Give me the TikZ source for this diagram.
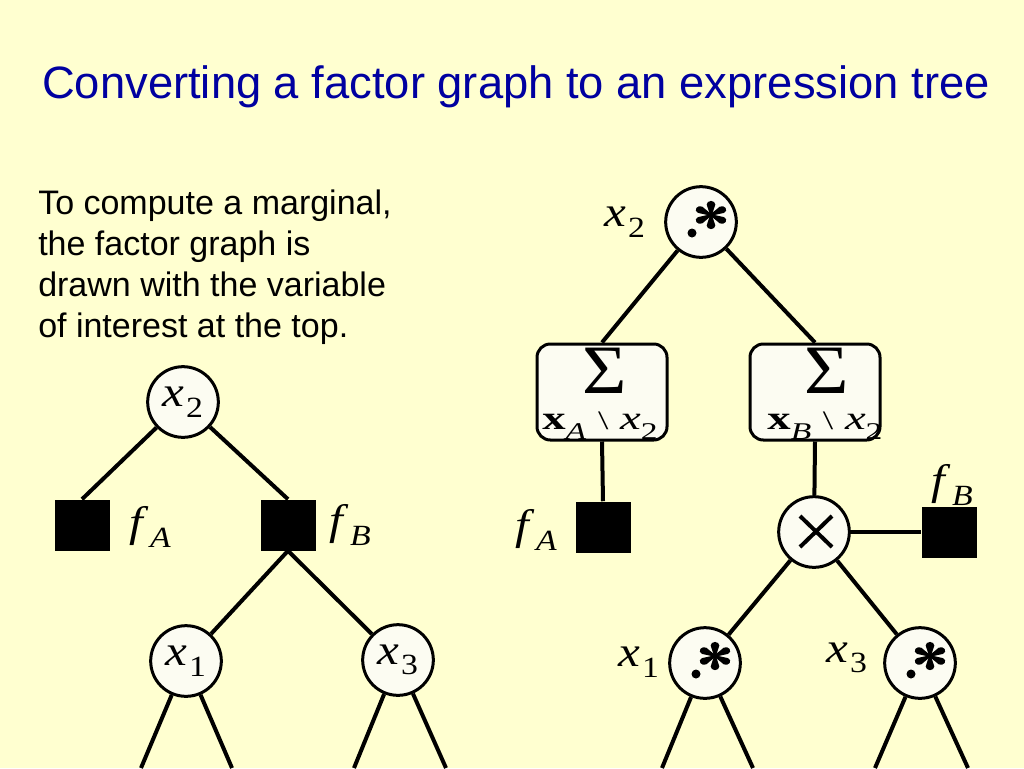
\documentclass[tikz,border=0pt]{standalone}
\usepackage{fontspec}
\setmainfont{Liberation Serif}
\newfontfamily\arialfont{Liberation Sans}
\usetikzlibrary{calc}
\definecolor{bgyellow}{RGB}{255,255,208}
\definecolor{titleblue}{RGB}{0,0,160}
\definecolor{nodefill}{RGB}{252,252,242}
\newcommand\mlab[2]{\scalebox{1.15}[1]{\fontsize{32pt}{32pt}\selectfont\textit{#1}\kern0.03em\raisebox{-0.25em}{\fontsize{22pt}{22pt}\selectfont #2}}}
\newcommand\sumsub[1]{\scalebox{1.4}[1]{\fontsize{25pt}{25pt}\selectfont\textbf{x}\raisebox{-0.3em}{\fontsize{18pt}{18pt}\selectfont\textit{#1}}\ {\fontsize{20pt}{20pt}\selectfont\textbackslash}\ \textit{x}\raisebox{-0.3em}{\fontsize{18pt}{18pt}\selectfont 2}}}
\newcommand\bigsig{\scalebox{1.1}[1]{\fontsize{52pt}{52pt}\selectfont Σ}}
\tikzset{
  conn/.style={line width=3pt},
  varnode/.style={circle, draw, line width=2.25pt, fill=nodefill, minimum size=53pt, inner sep=0pt},
  facnode/.style={rectangle, fill=black, minimum width=41.25pt, minimum height=38.25pt, inner sep=0pt},
  sumbox/.style={rectangle, rounded corners=10pt, draw, line width=2.25pt, fill=nodefill, minimum width=97.5pt, minimum height=72pt, inner sep=0pt},
  lbl/.style={inner sep=0pt},
  starsym/.pic={
    \fill (-9,11) circle[radius=4.5];
    \begin{scope}[shift={(10,-7)}, xscale=1.2]
      \foreach \a in {90,30,-30,-90,150,210}
        \fill[rotate=\a] (0,-0.8) -- (10.5,-3.6) arc[start angle=-90, end angle=90, radius=3.6] -- (0,0.8) -- cycle;
    \end{scope}
  }
}
\begin{document}
\begin{tikzpicture}[x=0.75pt,y=-0.75pt]
\useasboundingbox (0,0) rectangle (1024,768);
\fill[bgyellow] (0,0) rectangle (1024,768);

% title and text
\node[anchor=base, inner sep=0pt, text=titleblue, font=\arialfont\fontsize{34pt}{34pt}\selectfont] (title) at (516,98) {Converting a factor graph to an expression tree};
\node[anchor=north west, align=left, inner sep=0pt, font=\arialfont\fontsize{25.5pt}{30.75pt}\selectfont] (body) at (38,190) {To compute a marginal,\\the factor graph is\\drawn with the variable\\of interest at the top.};

% left factor graph
\node[varnode] (lx2) at (183,402) {\mlab{x}{2}};
\node[facnode] (lfA) at (82,525) {};
\node[facnode] (lfB) at (288,525) {};
\node[varnode] (lx1) at (186,661) {\mlab{x}{1}};
\node[varnode] (lx3) at (398,660) {\mlab{x}{3}};
\node[lbl] (lfAl) at (150,527) {\mlab{f}{\textit{A}}};
\node[lbl] (lfBl) at (350,525) {\mlab{f}{\textit{B}}};
\coordinate (b1) at (141,768);
\coordinate (b2) at (232,768);
\coordinate (b3) at (354,768);
\coordinate (b4) at (446,768);
\draw[conn] (lx2) -- (lfA.north);
\draw[conn] (lx2) -- (lfB.north);
\draw[conn] (lfB.south) -- (lx1);
\draw[conn] (lfB.south) -- (lx3);
\draw[conn] (lx1) -- (b1);
\draw[conn] (lx1) -- (b2);
\draw[conn] (lx3) -- (b3);
\draw[conn] (lx3) -- (b4);

% right expression tree
\node[varnode] (rx2) at (701,222) {};
\pic at (rx2) {starsym};
\node[lbl] (rx2l) at (625,222) {\mlab{x}{2}};
\node[sumbox] (sA) at (602,392) {};
\node[sumbox] (sB) at (815,392) {};
\node[lbl] (sAs) at (605,371) {\bigsig};
\node[lbl] (sBs) at (827,371) {\bigsig};
\node[lbl, anchor=base] (sAt) at (600,429) {\sumsub{A}};
\node[lbl, anchor=base] (sBt) at (825,429) {\sumsub{B}};
\node[facnode] (rfA) at (603,527) {};
\node[lbl] (rfAl) at (536,530) {\mlab{f}{\textit{A}}};
\node[varnode] (times) at (814,532) {};
\draw[line width=3pt] ($(times)+(-14,-16)$) -- ($(times)+(18,15)$);
\draw[line width=3pt] ($(times)+(-14,15)$) -- ($(times)+(18,-16)$);
\node[facnode] (rfB) at (949,532) {};
\node[lbl] (rfBl) at (952,485) {\mlab{f}{\textit{B}}};
\node[varnode] (rs1) at (705,663) {};
\pic at (rs1) {starsym};
\node[lbl] (rs1l) at (639,662) {\mlab{x}{1}};
\node[varnode] (rs3) at (920,663) {};
\pic at (rs3) {starsym};
\node[lbl] (rs3l) at (847,658) {\mlab{x}{3}};
\coordinate (b5) at (662,768);
\coordinate (b6) at (753,768);
\coordinate (b7) at (875,768);
\coordinate (b8) at (968,768);
\draw[conn] (rx2) -- (sA.north);
\draw[conn] (rx2) -- (sB.north);
\draw[conn] (sA.south) -- (rfA.north);
\draw[conn] (sB.south) -- (times);
\draw[conn] (times) -- (rfB);
\draw[conn] (times) -- (rs1);
\draw[conn] (times) -- (rs3);
\draw[conn] (rs1) -- (b5);
\draw[conn] (rs1) -- (b6);
\draw[conn] (rs3) -- (b7);
\draw[conn] (rs3) -- (b8);
\end{tikzpicture}
\end{document}
